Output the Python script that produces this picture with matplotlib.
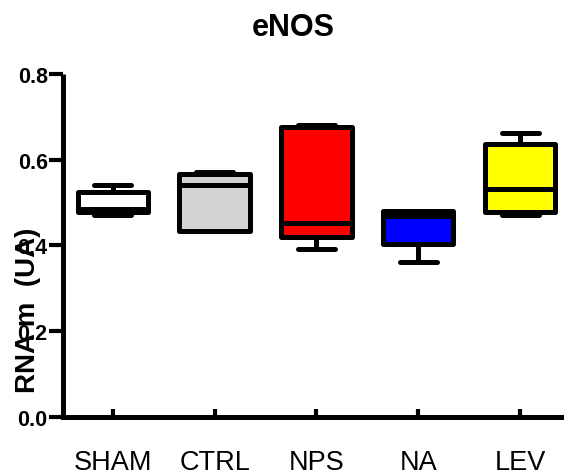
import matplotlib.pyplot as plt

# groups and box stats
groups = ['SHAM', 'CTRL', 'NPS', 'NA', 'LEV']
mins = [0.471, 0.433, 0.392, 0.362, 0.471]
q1s = [0.479, 0.433, 0.419, 0.403, 0.477]
meds = [0.486, 0.541, 0.452, 0.469, 0.532]
q3s = [0.524, 0.567, 0.676, 0.480, 0.637]
maxs = [0.541, 0.572, 0.681, 0.480, 0.662]
colors = ['white', '#d3d3d3', '#ff0000', '#0000ff', '#ffff00']

plt.rcParams['font.family'] = ['Liberation Sans', 'DejaVu Sans']

fig = plt.figure(figsize=(5.64, 4.77), dpi=100)
ax = fig.add_axes([0.1117, 0.1237, 0.8883, 0.7193])

stats = []
for i in range(len(groups)):
    stats.append({'whislo': mins[i], 'q1': q1s[i], 'med': meds[i],
                  'q3': q3s[i], 'whishi': maxs[i], 'label': groups[i]})

lw = 3.6
bp = ax.bxp(stats, positions=range(len(groups)), widths=0.69,
            patch_artist=True, showfliers=False,
            boxprops=dict(linewidth=lw, edgecolor='black', joinstyle='round'),
            medianprops=dict(linewidth=lw, color='black'),
            whiskerprops=dict(linewidth=lw, color='black'),
            capprops=dict(linewidth=lw, color='black', solid_capstyle='round'),
            capwidths=0.36)
for patch, c in zip(bp['boxes'], colors):
    patch.set_facecolor(c)

ax.set_xlim(-0.488, 4.43)
ax.set_ylim(0, 0.8)
ax.set_yticks([0.0, 0.2, 0.4, 0.6, 0.8])
ax.set_yticklabels(['0.0', '0.2', '0.4', '0.6', '0.8'], fontsize=15.5, fontweight='bold')
ax.set_xticks(range(len(groups)))
ax.set_xticklabels(groups, fontsize=19.5)

ax.spines['top'].set_visible(False)
ax.spines['right'].set_visible(False)
ax.spines['left'].set_linewidth(3.6)
ax.spines['bottom'].set_linewidth(3.6)
ax.spines['left'].set_capstyle('butt')
ax.tick_params(axis='y', direction='out', length=10, width=3, pad=1)
ax.tick_params(axis='x', direction='in', length=6, width=3, pad=23)

ax.set_title('eNOS', fontsize=22, fontweight='bold', pad=28, x=0.46)
# label sits low and runs over the tick labels, as in the original
ax.set_ylabel('RNA m  (UA)', fontsize=20, fontweight='bold')
ax.yaxis.set_label_coords(-0.044, 0.315)

fig.savefig('out.png', dpi=100)
